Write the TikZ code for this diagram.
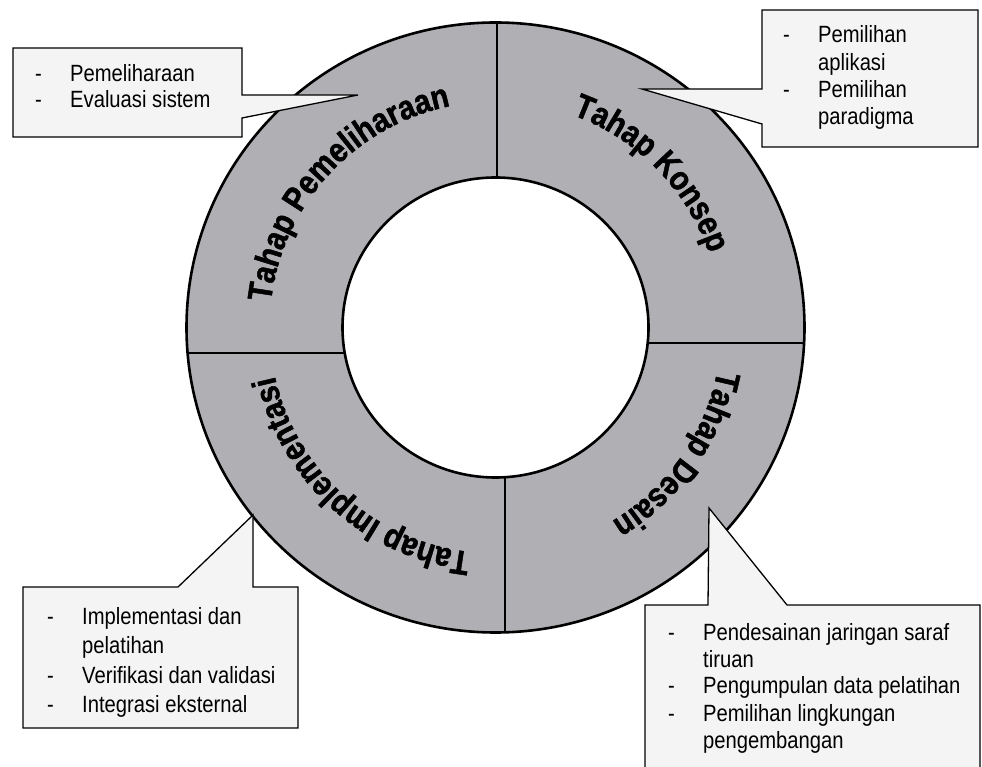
\documentclass[tikz,border=0pt]{standalone}
\usepackage{fontspec}
\usetikzlibrary{decorations.text}
\newfontfamily\boxfont[FakeStretch=0.86]{Liberation Sans}
\newfontfamily\ringfont[FakeStretch=0.86, FakeBold=1.4]{Liberation Sans}
\definecolor{ringgray}{RGB}{176,176,180}
\definecolor{boxfill}{RGB}{244,244,244}
\newcommand{\ringtxt}{\ringfont\bfseries\fontsize{34}{34}\selectfont}
\newcommand{\dsh}[1]{\makebox[35pt][l]{-}#1}
\newcommand{\cnt}[1]{\hspace*{35pt}#1}
\begin{document}
\begin{tikzpicture}[x=1pt,y=1pt,
  ringline/.style={line width=2.6pt, draw=black},
  divline/.style={line width=2.4pt, draw=black},
  callout/.style={fill=boxfill, draw=black, line width=1.3pt, line join=miter},
  boxtext/.style={anchor=base west, inner sep=0pt, font=\boxfont\fontsize{23.5}{27}\selectfont},
  ringlabel/.style={decorate, decoration={text along path, text align=center, text={|\ringtxt|#1}}}
]
\useasboundingbox[fill=white] (0,0) rectangle (982,766);
\coordinate (C) at (495.5,438.5);

% ring
\fill[ringgray, even odd rule] (C) ellipse[x radius=309, y radius=305] (C) ellipse[x radius=153, y radius=150];
\draw[ringline] (C) ellipse[x radius=309, y radius=305];
\draw[ringline] (C) ellipse[x radius=153, y radius=150];

% dividers
\coordinate (dt1) at (497,743); \coordinate (dt2) at (497,589);
\coordinate (db1) at (505,289); \coordinate (db2) at (505,134);
\coordinate (dl1) at (187.6,413); \coordinate (dl2) at (344.7,413);
\coordinate (dr1) at (647.7,423); \coordinate (dr2) at (804.1,423);
\draw[divline] (dt1) -- (dt2);
\draw[divline] (db1) -- (db2);
\draw[divline] (dl1) -- (dl2);
\draw[divline] (dr1) -- (dr2);

% ring labels
\path[ringlabel={Tahap Pemeliharaan}] (C) ++(217.5:226) arc[start angle=217.5, end angle=57.5, radius=226];
\path[ringlabel={Tahap Konsep}] (C) ++(124.6:226) arc[start angle=124.6, end angle=-35.4, radius=226];
\path[ringlabel={Tahap Desain}] (C) ++(45:226) arc[start angle=45, end angle=-115, radius=226];
\path[ringlabel={Tahap Implementasi}] (C) ++(-52:226) arc[start angle=-52, end angle=-212, radius=226];

% callouts
\draw[callout] (13,718) -- (242,718) -- (242,671) -- (358,671) -- (242,648) -- (242,629) -- (13,629) -- cycle;
\draw[callout] (762,756) -- (978,756) -- (978,619) -- (762,619) -- (762,642) -- (642,677) -- (762,677) -- cycle;
\draw[callout] (23,179) -- (178,179) -- (253,251) -- (253,179) -- (298,179) -- (298,38) -- (23,38) -- cycle;
\draw[callout] (645,161) -- (708,161) -- (709,258) -- (787,161) -- (980,161) -- (980,-3) -- (645,-3) -- cycle;

% texts top-left
\node[boxtext] (tl1) at (35,684) {\dsh{Pemeliharaan}};
\node[boxtext] (tl2) at (35,658) {\dsh{Evaluasi sistem}};
% texts top-right
\node[boxtext] (tr1) at (783,723) {\dsh{Pemilihan}};
\node[boxtext] (tr2) at (783,695.7) {\cnt{aplikasi}};
\node[boxtext] (tr3) at (783,668.4) {\dsh{Pemilihan}};
\node[boxtext] (tr4) at (783,641) {\cnt{paradigma}};
% texts bottom-left
\node[boxtext] (bl1) at (47,142) {\dsh{Implementasi dan}};
\node[boxtext] (bl2) at (47,113) {\cnt{pelatihan}};
\node[boxtext] (bl3) at (47,83) {\dsh{Verifikasi dan validasi}};
\node[boxtext] (bl4) at (47,54) {\dsh{Integrasi eksternal}};
% texts bottom-right
\node[boxtext] (br1) at (668,126) {\dsh{Pendesainan jaringan saraf}};
\node[boxtext] (br2) at (668,99) {\cnt{tiruan}};
\node[boxtext] (br3) at (668,73) {\dsh{Pengumpulan data pelatihan}};
\node[boxtext] (br4) at (668,45) {\dsh{Pemilihan lingkungan}};
\node[boxtext] (br5) at (668,18) {\cnt{pengembangan}};
\end{tikzpicture}
\end{document}
